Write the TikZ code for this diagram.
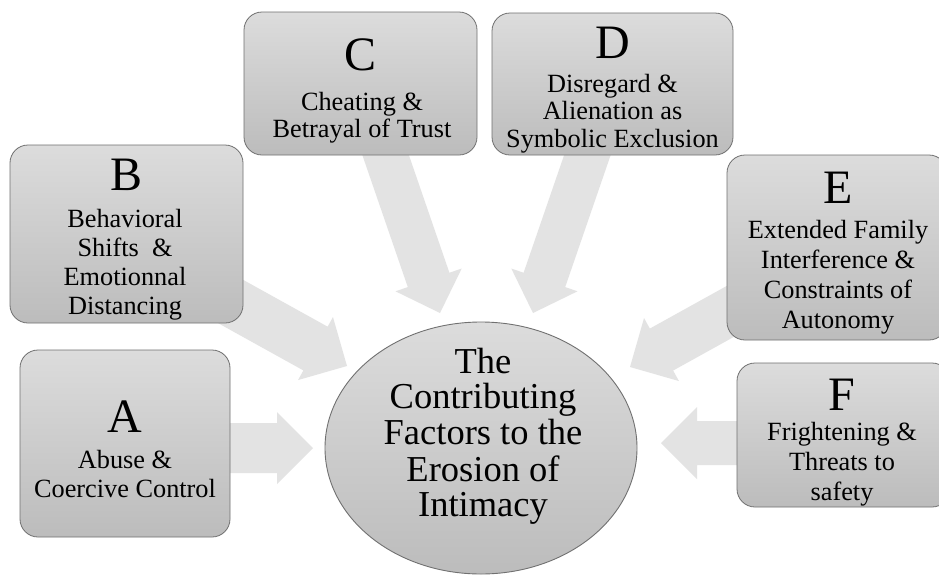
\documentclass[tikz,border=0pt]{standalone}
\usepackage{fontspec}
\setmainfont{Liberation Serif}
\usetikzlibrary{shapes.geometric}
\definecolor{arrowgray}{HTML}{E3E3E3}
\definecolor{boxtop}{HTML}{DCDCDC}
\definecolor{boxbot}{HTML}{BCBCBC}
\definecolor{boxline}{HTML}{707070}
\newcommand\mystack[3]{{\fontsize{#1}{#2}\selectfont\begin{tabular}[t]{@{}c@{}}#3\end{tabular}}}
\newcommand\bigletter[1]{{\fontsize{48}{48}\selectfont #1}}
% tip, angle, length, shaft half width, head half width, head length
\newcommand\blockarrow[6]{%
  \fill[arrowfill, shift={(#1)}, rotate=#2] (0,0) -- (-#6,#5) -- (-#6,#4) -- (-#3,#4) -- (-#3,-#4) -- (-#6,-#4) -- (-#6,-#5) -- cycle;}
\begin{document}
\begin{tikzpicture}[x=1pt,y=-1pt,
  arrowfill/.style={fill=arrowgray},
  box/.style={draw=boxline, line width=0.8pt, rounded corners=18pt, top color=boxtop, bottom color=boxbot, inner sep=0pt},
  hub/.style={ellipse, draw=boxline, line width=0.9pt, top color=boxtop, bottom color=boxbot, inner sep=0pt},
  txt/.style={anchor=base, inner sep=0pt, text=black}]
\useasboundingbox (0,0) rectangle (939,574);
\fill[white] (0,0) rectangle (939,574);
% arrow tips
\coordinate (tA) at (313,448);
\coordinate (tB) at (347,366);
\coordinate (tC) at (440,313);
\coordinate (tD) at (533,313);
\coordinate (tE) at (630,367);
\coordinate (tF) at (661,443);
\blockarrow{tA}{0}{100}{25}{36}{36}
\blockarrow{tB}{-29}{135}{25}{36}{36}
\blockarrow{tC}{-71}{190}{22}{35}{35}
\blockarrow{tD}{-109}{190}{22}{35}{35}
\blockarrow{tE}{209}{135}{24}{36}{36}
\blockarrow{tF}{180}{100}{22}{36}{36}
% boxes
\node[box, minimum width=233, minimum height=178] (B) at (126.5,234) {};
\node[box, minimum width=233, minimum height=143] (C) at (360.5,83.5) {};
\node[box, minimum width=241, minimum height=142] (D) at (612.5,84) {};
\node[box, minimum width=220, minimum height=185] (E) at (837,247.5) {};
\node[box, minimum width=213, minimum height=144] (F) at (843.5,435) {};
\node[box, minimum width=210, minimum height=187] (A) at (125,443.5) {};
\node[hub, minimum width=312, minimum height=252] (X) at (481,448) {};
% texts
\node[txt] (Bl) at (126.5,190) {\bigletter{B}};
\node[txt] (Bt) at (125,227) {\mystack{26.3}{29.3}{Behavioral\\Shifts\ \ \&\\Emotionnal\\Distancing}};
\node[txt] (Cl) at (360.5,70) {\bigletter{C}};
\node[txt] (Ct) at (362,110) {\mystack{26.3}{27}{Cheating \&\\Betrayal of Trust}};
\node[txt] (Dl) at (612.5,58) {\bigletter{D}};
\node[txt] (Dt) at (612.5,92) {\mystack{26.3}{27.5}{Disregard \&\\Alienation as\\Symbolic Exclusion}};
\node[txt] (El) at (838,203) {\bigletter{E}};
\node[txt] (Et) at (838,238) {\mystack{26.3}{30}{Extended Family\\Interference \&\\Constraints of\\Autonomy}};
\node[txt] (Fl) at (842,410) {\bigletter{F}};
\node[txt] (Ft) at (842,440) {\mystack{26.3}{30}{Frightening \&\\Threats to\\safety}};
\node[txt] (Al) at (125,432) {\bigletter{A}};
\node[txt] (At) at (125,468) {\mystack{26.3}{29}{Abuse \&\\Coercive Control}};
\node[txt] (Xt) at (483,373) {\mystack{36.5}{35.5}{The\\Contributing\\Factors to the\\Erosion of\\Intimacy}};
\end{tikzpicture}
\end{document}
